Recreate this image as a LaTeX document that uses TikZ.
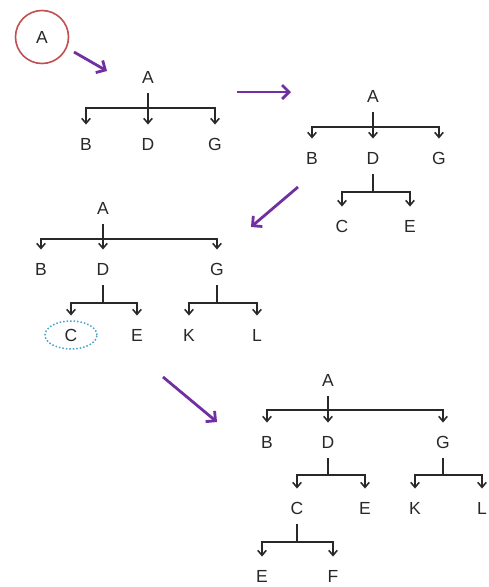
\documentclass[tikz,border=0pt]{standalone}
\usepackage{fontspec}
\setmainfont{Liberation Sans}
\usetikzlibrary{arrows.meta,positioning}

\definecolor{movepurple}{RGB}{112,48,160}
\definecolor{rootred}{RGB}{192,80,77}
\definecolor{markblue}{RGB}{70,160,205}
\definecolor{linkgrey}{RGB}{40,40,40}

\begin{document}
\begin{tikzpicture}[x=1pt,y=-1pt,
  lbl/.style={font=\fontsize{17.5}{18}\selectfont,text=linkgrey,inner sep=0pt,text height=12.5pt,text depth=0pt},
  stem/.style={linkgrey,line width=1.6pt,shorten <=10pt},
  link/.style={linkgrey,line width=1.6pt,-{Straight Barb[length=5pt,width=8.5pt,line width=1.6pt]},shorten >=13pt},
  move/.style={movepurple,line width=2.8pt,-{Straight Barb[length=7pt,width=14pt]}},
  ring/.style={markblue,line width=1.5pt,dotted}]
  \useasboundingbox (0,0) rectangle (488,587);
  % the lone root
  \node[lbl,draw=rootred,line width=1.6pt,circle,minimum size=53pt,text height=,inner sep=0pt] (A0) at (42,37) {A};
  \coordinate (m1a) at (74,52);
  \coordinate (m1b) at (107,71);
  \draw[move] (m1a) -- (m1b);
  % first tree
  \node[lbl] (A1) at (148,77) {A};
  \node[lbl] (B1) at (86,144) {B};
  \node[lbl] (D1) at (148,144) {D};
  \node[lbl] (G1) at (215,144) {G};
  \coordinate (j1) at (148,108);
  \draw[stem] (A1) -- (j1);
  \foreach \k in {B1,D1,G1} \draw[link] (j1) -| (\k);
  \coordinate (m2a) at (237,92);
  \coordinate (m2b) at (291,92);
  \draw[move] (m2a) -- (m2b);
  % second tree
  \node[lbl] (A2) at (373,96) {A};
  \node[lbl] (B2) at (312,158) {B};
  \node[lbl] (D2) at (373,158) {D};
  \node[lbl] (G2) at (439,158) {G};
  \node[lbl] (C2) at (342,226) {C};
  \node[lbl] (E2) at (410,226) {E};
  \coordinate (j2) at (373,127);
  \coordinate (j2d) at (373,192);
  \draw[stem] (A2) -- (j2);
  \foreach \k in {B2,D2,G2} \draw[link] (j2) -| (\k);
  \draw[stem] (D2) -- (j2d);
  \foreach \k in {C2,E2} \draw[link] (j2d) -| (\k);
  \coordinate (m3a) at (298,187);
  \coordinate (m3b) at (251,227);
  \draw[move] (m3a) -- (m3b);
  % third tree
  \node[lbl] (A3) at (103,208) {A};
  \node[lbl] (B3) at (41,269) {B};
  \node[lbl] (D3) at (103,269) {D};
  \node[lbl] (G3) at (217,269) {G};
  \node[lbl] (C3) at (71,335) {C};
  \node[lbl] (E3) at (137,335) {E};
  \node[lbl] (K3) at (189,335) {K};
  \node[lbl] (L3) at (257,335) {L};
  \coordinate (j3) at (103,239);
  \coordinate (j3d) at (103,303);
  \coordinate (j3g) at (217,303);
  \draw[stem] (A3) -- (j3);
  \foreach \k in {B3,D3,G3} \draw[link] (j3) -| (\k);
  \draw[stem] (D3) -- (j3d);
  \foreach \k in {C3,E3} \draw[link] (j3d) -| (\k);
  \draw[stem] (G3) -- (j3g);
  \foreach \k in {K3,L3} \draw[link] (j3g) -| (\k);
  \draw[ring] (C3) ellipse [x radius=26pt,y radius=14pt];
  \coordinate (m4a) at (163,377);
  \coordinate (m4b) at (217,422);
  \draw[move] (m4a) -- (m4b);
  % fourth tree
  \node[lbl] (A4) at (328,380) {A};
  \node[lbl] (B4) at (267,442) {B};
  \node[lbl] (D4) at (328,442) {D};
  \node[lbl] (G4) at (443,442) {G};
  \node[lbl] (C4) at (297,508) {C};
  \node[lbl] (E4) at (365,508) {E};
  \node[lbl] (K4) at (415,508) {K};
  \node[lbl] (L4) at (482,508) {L};
  \node[lbl] (E5) at (262,576) {E};
  \node[lbl] (F5) at (333,576) {F};
  \coordinate (j4) at (328,410);
  \coordinate (j4d) at (328,475);
  \coordinate (j4g) at (443,475);
  \coordinate (j4c) at (297,542);
  \draw[stem] (A4) -- (j4);
  \foreach \k in {B4,D4,G4} \draw[link] (j4) -| (\k);
  \draw[stem] (D4) -- (j4d);
  \foreach \k in {C4,E4} \draw[link] (j4d) -| (\k);
  \draw[stem] (G4) -- (j4g);
  \foreach \k in {K4,L4} \draw[link] (j4g) -| (\k);
  \draw[stem] (C4) -- (j4c);
  \foreach \k in {E5,F5} \draw[link] (j4c) -| (\k);
\end{tikzpicture}
\end{document}
